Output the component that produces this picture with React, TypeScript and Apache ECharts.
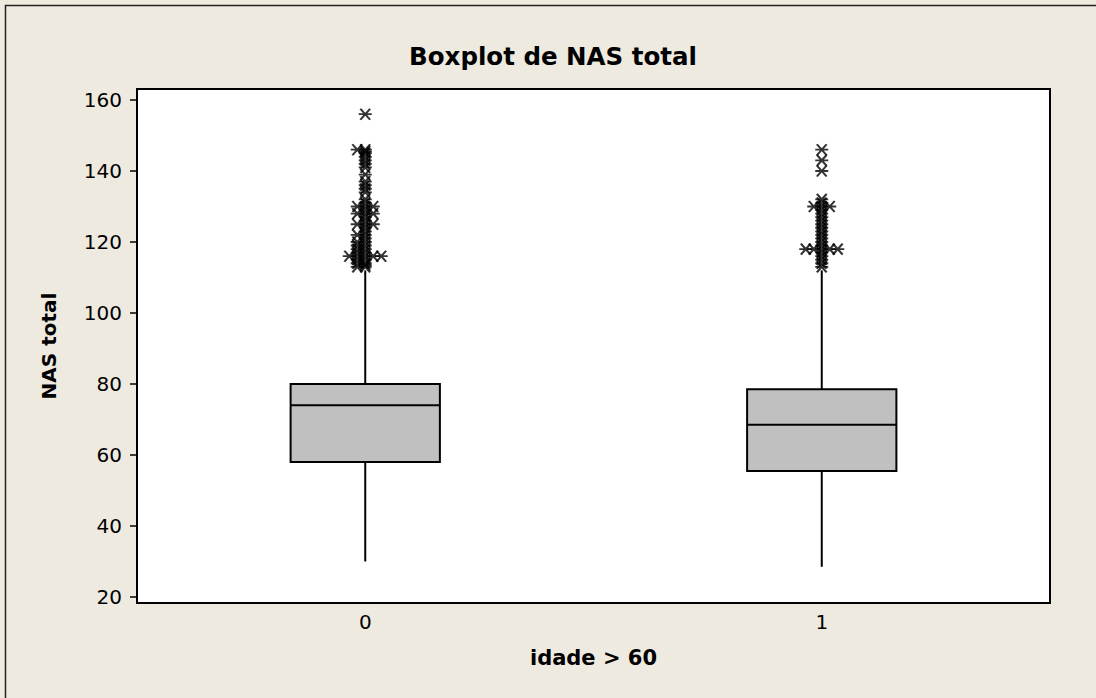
import React, { useEffect, useRef } from "react";
import * as echarts from "echarts";

const categories = ["0", "1"];
const whiskerLow = [30, 28.5];
const q1 = [58, 55.5];
const median = [74, 68.5];
const q3 = [80, 78.5];
const whiskerHigh = [112, 112];

const outliers0 = [
  156, 146, 146, 145.5, 145, 144, 143, 142, 141, 139, 137, 136, 135, 134, 132,
  131, 130, 130, 130, 129, 128, 128, 128, 127, 126, 125, 125, 125, 124, 123,
  122, 122, 121, 120, 120, 119, 119, 118, 118, 117, 117, 116, 116, 116, 116,
  116, 115, 115, 114, 114, 113.5, 113, 113,
];
const outliers1 = [
  146, 143, 140, 132, 131, 130, 130, 130, 129, 128, 127, 126, 125, 124, 123,
  122, 121, 120, 119, 118, 118, 118, 118, 118, 117, 116, 115, 114, 113,
];

const yTicks = [20, 40, 60, 80, 100, 120, 140, 160];
const yMin = 18.3;
const yMax = 163.1;

const FONT = "'DejaVu Sans', Verdana, sans-serif";
const STAR = "path://M0,5L12,5M1.5,0L10.5,10M1.5,10L10.5,0";

function jitter(values: number[], cat: number) {
  const seen: Record<string, number> = {};
  return values.map((v) => {
    const k = String(v);
    const n = seen[k] || 0;
    seen[k] = n + 1;
    const side = n === 0 ? 0 : n % 2 === 1 ? -1 : 1;
    const step = Math.ceil(n / 2);
    return { value: [cat, v], symbolOffset: [side * step * 8, 0] };
  });
}

export default function App() {
  const ref = useRef<HTMLDivElement>(null);
  useEffect(() => {
    if (!ref.current) return;
    const chart = echarts.init(ref.current, undefined, { renderer: "svg" });
    const boxData = categories.map((_, i) => [
      i,
      whiskerLow[i],
      q1[i],
      median[i],
      q3[i],
      whiskerHigh[i],
    ]);
    chart.setOption({
      animation: false,
      backgroundColor: "#eeeae0",
      title: {
        text: "Boxplot de NAS total",
        left: 548,
        textAlign: "center",
        top: 39,
        textStyle: { fontFamily: FONT, fontSize: 24.5, fontWeight: "bold", color: "#000" },
      },
      graphic: [
        {
          type: "rect",
          shape: { x: 5.5, y: 5.5, width: 1200, height: 800 },
          style: { fill: "none", stroke: "#222", lineWidth: 1.5 },
          silent: true,
        },
      ],
      grid: {
        left: 137,
        right: 46,
        top: 89,
        bottom: 95,
        show: true,
        backgroundColor: "#ffffff",
        borderColor: "#000",
        borderWidth: 2,
      },
      xAxis: {
        type: "category",
        data: categories,
        boundaryGap: true,
        name: "idade > 60",
        nameLocation: "middle",
        nameGap: 44,
        nameTextStyle: { fontFamily: FONT, fontSize: 21, fontWeight: "bold", color: "#000" },
        axisLine: { lineStyle: { color: "#000", width: 2 } },
        axisTick: { alignWithLabel: true, length: 6, lineStyle: { color: "#000", width: 1.5 } },
        axisLabel: { fontFamily: FONT, fontSize: 20, color: "#000", margin: 9 },
        splitLine: { show: false },
      },
      yAxis: {
        type: "value",
        min: yMin,
        max: yMax,
        name: "NAS total",
        nameLocation: "middle",
        nameGap: 78,
        nameRotate: 90,
        nameTextStyle: { fontFamily: FONT, fontSize: 20, fontWeight: "bold", color: "#000" },
        axisLine: { show: true, lineStyle: { color: "#000", width: 2 } },
        axisTick: { show: true, length: 7, customValues: yTicks, lineStyle: { color: "#000", width: 1.5 } },
        axisLabel: { fontFamily: FONT, fontSize: 20, color: "#000", margin: 15, customValues: yTicks },
        splitLine: { show: false },
      },
      series: [
        {
          type: "custom",
          data: boxData,
          encode: { x: 0, y: [1, 2, 3, 4, 5] },
          renderItem: (params: any, api: any) => {
            const c = api.value(0);
            const pLow = api.coord([c, api.value(1)]);
            const pQ1 = api.coord([c, api.value(2)]);
            const pMed = api.coord([c, api.value(3)]);
            const pQ3 = api.coord([c, api.value(4)]);
            const pHigh = api.coord([c, api.value(5)]);
            const band = api.size([1, 0])[0];
            const w = band * 0.327;
            const x0 = pQ1[0] - w / 2;
            const lineStyle = { stroke: "#000", lineWidth: 2 };
            return {
              type: "group",
              children: [
                { type: "line", shape: { x1: pLow[0], y1: pLow[1], x2: pQ1[0], y2: pQ1[1] }, style: lineStyle },
                { type: "line", shape: { x1: pQ3[0], y1: pQ3[1], x2: pHigh[0], y2: pHigh[1] }, style: lineStyle },
                {
                  type: "rect",
                  shape: { x: x0, y: pQ3[1], width: w, height: pQ1[1] - pQ3[1] },
                  style: { fill: "#c0c0c0", stroke: "#000", lineWidth: 2 },
                },
                { type: "line", shape: { x1: x0, y1: pMed[1], x2: x0 + w, y2: pMed[1] }, style: lineStyle },
              ],
            };
          },
        },
        {
          type: "scatter",
          data: [...jitter(outliers0, 0), ...jitter(outliers1, 1)],
          symbol: STAR,
          symbolSize: [13, 11],
          itemStyle: { color: "none", borderColor: "#000", borderWidth: 2 },
          z: 3,
        },
      ],
    });
    return () => chart.dispose();
  }, []);
  return (
    <div
      ref={ref}
      style={{ position: "fixed", left: 0, top: 0, width: 1096, height: 698 }}
    />
  );
}
